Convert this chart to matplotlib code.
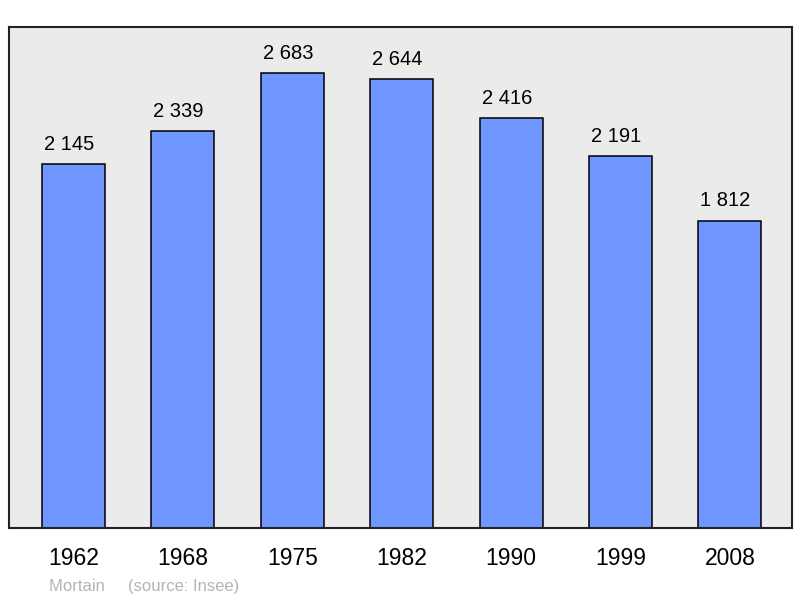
import matplotlib.pyplot as plt

years = ['1962', '1968', '1975', '1982', '1990', '1999', '2008']
population = [2145, 2339, 2683, 2644, 2416, 2191, 1812]
labels = ['2 145', '2 339', '2 683', '2 644', '2 416', '2 191', '1 812']

plt.rcParams['font.family'] = ['Liberation Sans', 'DejaVu Sans']

fig = plt.figure(figsize=(8, 5.98), dpi=100)
ax = fig.add_axes([0.0113, 0.117, 0.979, 0.838])
ax.set_facecolor('#ebebeb')

x = list(range(len(years)))
bars = ax.bar(x, population, width=0.576, color='#7096ff',
              edgecolor='black', linewidth=1.1, zorder=2)
# value labels sit a little left of the bar centre, like the original
for b, lab in zip(bars, labels):
    ax.text(b.get_x() + b.get_width() / 2 - 0.04, b.get_height() + 60, lab,
            ha='center', va='bottom', fontsize=14.5, color='black')

ax.set_xlim(-0.59, 6.57)
ax.set_ylim(0, 2954)
ax.set_yticks([])
ax.set_xticks(x)
ax.set_xticklabels(years, fontsize=16.5)
ax.tick_params(axis='x', length=0, pad=14)
for s in ax.spines.values():
    s.set_linewidth(1.5)
    s.set_color('#222222')

fig.text(0.061, 0.012, 'Mortain     (source: Insee)', fontsize=12, color='#b4b4b4')

plt.savefig('out.png', dpi=100)
